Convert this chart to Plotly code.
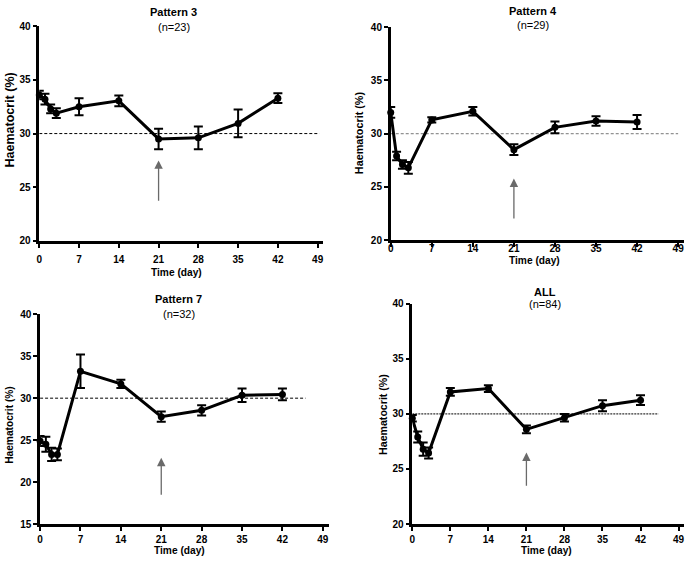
import plotly.graph_objects as go

W, H = 685, 563

days = [0, 1, 2, 3, 7, 14, 21, 28, 35, 42]
x_ticks = [0, 7, 14, 21, 28, 35, 42, 49]

p3_mean = [33.6, 33.2, 32.3, 31.9, 32.5, 33.05, 29.5, 29.6, 30.95, 33.3]
p3_err = [0.4, 0.5, 0.4, 0.45, 0.8, 0.5, 0.95, 1.05, 1.3, 0.45]

p4_mean = [32.0, 27.9, 27.1, 26.8, 31.3, 32.1, 28.5, 30.6, 31.2, 31.1]
p4_err = [0.5, 0.4, 0.4, 0.55, 0.25, 0.4, 0.5, 0.55, 0.45, 0.65]

p7_mean = [24.9, 24.5, 23.3, 23.3, 33.2, 31.7, 27.8, 28.55, 30.35, 30.45]
p7_err = [0.6, 0.9, 0.8, 0.7, 2.0, 0.5, 0.6, 0.6, 0.8, 0.7]

all_mean = [29.6, 27.9, 26.8, 26.45, 32.0, 32.3, 28.6, 29.65, 30.75, 31.25]
all_err = [0.3, 0.5, 0.6, 0.5, 0.35, 0.3, 0.35, 0.35, 0.5, 0.45]

titles = ["Pattern 3", "Pattern 4", "Pattern 7", "ALL"]
ns = ["(n=23)", "(n=29)", "(n=32)", "(n=84)"]
means = [p3_mean, p4_mean, p7_mean, all_mean]
errs = [p3_err, p4_err, p7_err, all_err]
y_ranges = [[20, 40], [20, 40], [15, 40], [20, 40]]
ref_line = [30, 30, 30, 30]
ref_end = [49.3, 49, 46, 45.3]
ref_color = ["black", "#777777", "black", "black"]
ref_dash = ["3px,2px", "3px,2px", "3px,2px", "2px,1px"]
arrow_tail = [23.6, 21.9, 18.3, 23.35]
arrow_head = [27.5, 25.8, 22.9, 26.5]

# panel geometry in pixels: x0, x1 (x=0..50), ytop (y max), ybot (y min)
panels = [
    (36.5, 322.2, 20.7, 240.0),
    (390.0, 685.0, 21.7, 239.3),
    (37.3, 327.5, 315.0, 529.3),
    (411.7, 685.0, 304.3, 529.3),
]
xlabel_standoff = [3, -7, 0, 0]
title_pos = [(172, 6, 21), (533, 5, 19.5), (177, 299, 315), (545, 292, 305)]
xtitle_pos = [(175, 272), (535, 260), (178, 556), (547, 556)]
ytitle_pos = [(7, 116), (358, 129), (7, 428), (382, 417)]
ytitle_size = [12.5, 10.8, 10.2, 10.6]

FONT = "Liberation Sans, Arial, sans-serif"
fig = go.Figure()
bold = dict(family=FONT, size=10, color="black", weight="bold")

for i in range(4):
    k = "" if i == 0 else str(i + 1)
    xa, ya = "x" + k, "y" + k
    fig.add_trace(go.Scatter(
        x=days, y=means[i], xaxis=xa, yaxis=ya, mode="lines+markers",
        line=dict(color="black", width=3),
        marker=dict(color="black", size=7, symbol="circle"),
        error_y=dict(type="data", array=errs[i], color="black", thickness=2, width=4.5),
        cliponaxis=False, showlegend=False, hoverinfo="skip",
    ))
    x0, x1, yt, yb = panels[i]
    fig.update_layout(**{
        "xaxis" + k: dict(
            domain=[x0 / W, x1 / W], range=[0, 50], anchor=ya,
            tickvals=x_ticks, showline=True, linecolor="black", linewidth=2.5,
            ticks="outside", ticklen=4, tickwidth=2, tickcolor="black",
            showgrid=False, zeroline=False, tickfont=bold,
            ticklabeloverflow="allow", ticklabelstandoff=xlabel_standoff[i],
        ),
        "yaxis" + k: dict(
            domain=[1 - yb / H, 1 - yt / H], range=y_ranges[i], anchor=xa,
            dtick=5, showline=True, linecolor="black", linewidth=2.5,
            ticks="outside", ticklen=4, tickwidth=2, tickcolor="black",
            showgrid=False, zeroline=False, tickfont=bold,
            ticklabeloverflow="allow",
        ),
    })
    fig.add_shape(type="line", xref=xa, yref=ya, x0=0, x1=ref_end[i],
                  y0=ref_line[i], y1=ref_line[i],
                  line=dict(color=ref_color[i], width=1, dash=ref_dash[i]), layer="below")
    fig.add_annotation(x=21, y=arrow_head[i], ax=21, ay=arrow_tail[i],
                       xref=xa, yref=ya, axref=xa, ayref=ya, text="",
                       showarrow=True, arrowhead=2, arrowsize=1.3, arrowwidth=1.3,
                       arrowcolor="#6a6a6a")
    tx, ty1, ty2 = title_pos[i]
    fig.add_annotation(x=tx / W, y=1 - ty1 / H, xref="paper", yref="paper",
                       text="<b>" + titles[i] + "</b>", showarrow=False,
                       xanchor="center", yanchor="middle",
                       font=dict(family=FONT, size=11, color="black"))
    fig.add_annotation(x=tx / W, y=1 - ty2 / H, xref="paper", yref="paper",
                       text=ns[i], showarrow=False, xanchor="center", yanchor="middle",
                       font=dict(family=FONT, size=11, color="black"))
    xx, xy = xtitle_pos[i]
    fig.add_annotation(x=xx / W, y=1 - xy / H, xref="paper", yref="paper",
                       text="<b>Time (day)</b>", showarrow=False,
                       xanchor="center", yanchor="middle",
                       font=dict(family=FONT, size=10.2, color="black"))
    yx, yy = ytitle_pos[i]
    fig.add_annotation(x=yx / W, y=1 - yy / H, xref="paper", yref="paper",
                       text="<b>Haematocrit (%)</b>", showarrow=False, textangle=-90,
                       xanchor="center", yanchor="middle",
                       font=dict(family=FONT, size=ytitle_size[i], color="black"))

fig.update_layout(
    width=W, height=H, margin=dict(l=0, r=0, t=0, b=0),
    paper_bgcolor="white", plot_bgcolor="white", showlegend=False,
)

fig.write_html("out.html", config={"displayModeBar": False},
               post_script="document.body.style.margin='0';document.documentElement.style.overflow='hidden';")
